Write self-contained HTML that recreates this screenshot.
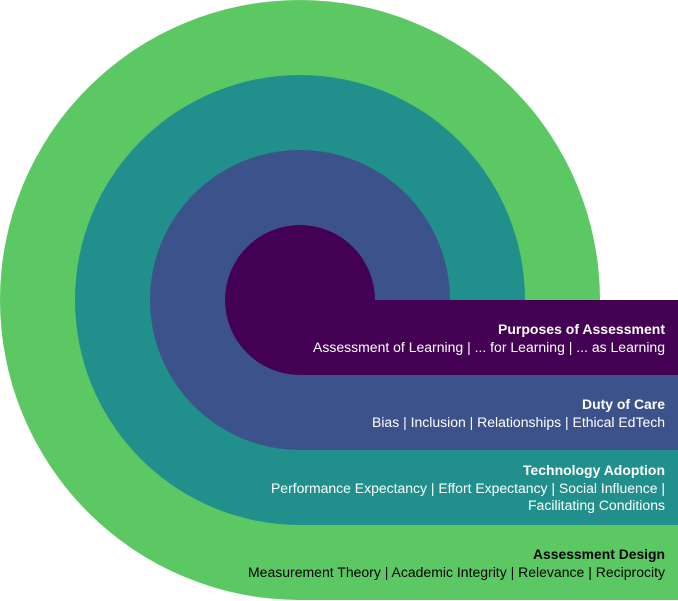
<!DOCTYPE html>
<html><head><meta charset="utf-8"><style>html,body{margin:0;padding:0;background:#fff}svg{display:block}</style></head><body>
<svg width="678" height="601" viewBox="0 0 678 601" xmlns="http://www.w3.org/2000/svg" font-family="Liberation Sans, Arial, sans-serif" font-size="13.5">
<circle cx="300" cy="300" r="300" fill="#5cc863"/>
<rect x="300" y="300" width="378" height="300" fill="#5cc863"/>
<circle cx="300" cy="300" r="225" fill="#21908d"/>
<rect x="300" y="300" width="378" height="225" fill="#21908d"/>
<circle cx="300" cy="300" r="150" fill="#3b528b"/>
<rect x="300" y="300" width="378" height="150" fill="#3b528b"/>
<circle cx="300" cy="300" r="75" fill="#440154"/>
<rect x="300" y="300" width="378" height="75" fill="#440154"/>
<g text-anchor="end" fill="#fff">
<text x="665" y="334" font-weight="bold" textLength="167" lengthAdjust="spacingAndGlyphs">Purposes of Assessment</text>
<text x="665" y="352" textLength="352" lengthAdjust="spacingAndGlyphs">Assessment of Learning | ... for Learning | ... as Learning</text>
<text x="665" y="409" font-weight="bold" textLength="83" lengthAdjust="spacingAndGlyphs">Duty of Care</text>
<text x="665" y="427" textLength="293" lengthAdjust="spacingAndGlyphs">Bias | Inclusion | Relationships | Ethical EdTech</text>
<text x="665" y="475" font-weight="bold" textLength="142" lengthAdjust="spacingAndGlyphs">Technology Adoption</text>
<text x="665" y="493" textLength="394" lengthAdjust="spacingAndGlyphs">Performance Expectancy | Effort Expectancy | Social Influence |</text>
<text x="665" y="510" textLength="137" lengthAdjust="spacingAndGlyphs">Facilitating Conditions</text>
</g>
<g text-anchor="end" fill="#000">
<text x="665" y="559" font-weight="bold" textLength="132" lengthAdjust="spacingAndGlyphs">Assessment Design</text>
<text x="665" y="577" textLength="417" lengthAdjust="spacingAndGlyphs">Measurement Theory | Academic Integrity | Relevance | Reciprocity</text>
</g>
</svg>
</body></html>
